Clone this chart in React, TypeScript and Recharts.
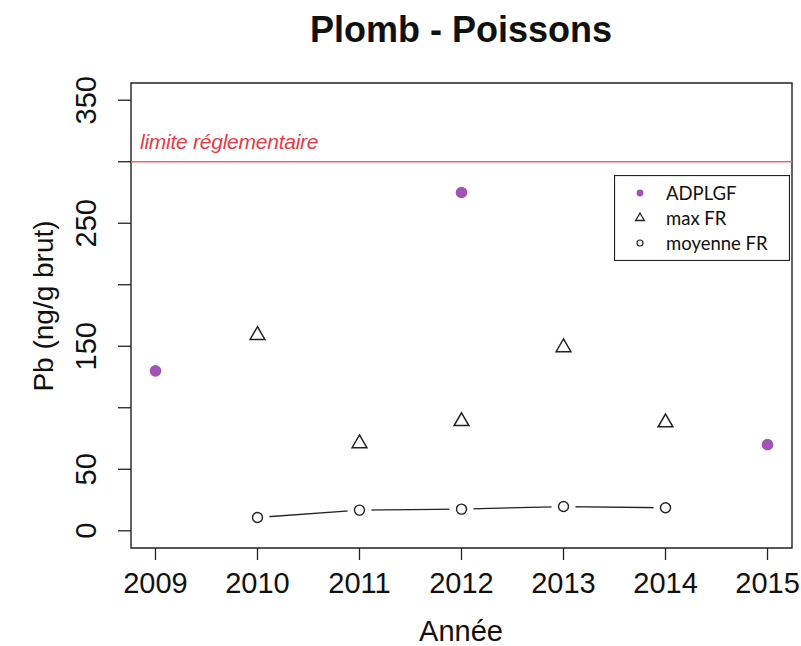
import React from 'react';
import {
  ScatterChart,
  Scatter,
  XAxis,
  YAxis,
  ReferenceLine,
  ReferenceArea,
  Legend,
} from 'recharts';

// ---- data ----
const yearTicks = [2009, 2010, 2011, 2012, 2013, 2014, 2015];
const yTicks = [0, 50, 100, 150, 200, 250, 300, 350];
const yLabelTicks = [0, 50, 150, 250, 350];

const adplgfYears = [2009, 2012, 2015];
const adplgfValues = [130, 275, 70];

const maxFrYears = [2010, 2011, 2012, 2013, 2014];
const maxFrValues = [159, 71, 89, 149, 88];

const moyFrYears = [2010, 2011, 2012, 2013, 2014];
const moyFrValues = [10.8, 16.8, 17.6, 19.7, 18.7];

const limitValue = 300;
const limitLabel = 'limite réglementaire';

const titleText = 'Plomb - Poissons';
const xTitle = 'Année';
const yTitle = 'Pb (ng/g brut)';
const seriesNames = ['ADPLGF', 'max FR', 'moyenne FR'];

const xDomain: [number, number] = [2008.76, 2015.24];
const yDomain: [number, number] = [-14, 364];

// ---- derived tables ----
const adplgfData = adplgfYears.map((year, i) => ({ year, v: adplgfValues[i] }));
const maxFrData = maxFrYears.map((year, i) => ({ year, v: maxFrValues[i] }));
const moyFrData = moyFrYears.map((year, i) => ({ year, v: moyFrValues[i] }));

// ---- styles ----
const FONT = '"Liberation Sans", Arial, Helvetica, sans-serif';
const INK = '#222';
const PURPLE = '#A352B5';
const RED_LINE = '#F06A6A';
const RED_TEXT = '#E83A44';

const DotShape = (props: any) => {
  const { cx, cy } = props;
  return <circle cx={cx} cy={cy} r={5.8} fill={PURPLE} />;
};

const TriangleShape = (props: any) => {
  const { cx, cy } = props;
  const r = 8.5;
  const hx = 7.4;
  const pts = `${cx},${cy - r} ${cx + hx},${cy + r / 2} ${cx - hx},${cy + r / 2}`;
  return <polygon points={pts} fill="none" stroke={INK} strokeWidth={1.5} strokeLinejoin="miter" />;
};

const OpenCircleShape = (props: any) => {
  const { cx, cy } = props;
  return (
    <g>
      <circle cx={cx} cy={cy} r={12} fill="#fff" />
      <circle cx={cx} cy={cy} r={5} fill="#fff" stroke={INK} strokeWidth={1.4} />
    </g>
  );
};

const YTick = (props: any) => {
  const { y, payload } = props;
  if (!yLabelTicks.includes(payload.value)) return null;
  const x = 86;
  return (
    <text
      x={x}
      y={y}
      transform={`rotate(-90, ${x}, ${y})`}
      textAnchor="middle"
      dominantBaseline="central"
      fontFamily={FONT}
      fontSize={29}
      fill="#111"
    >
      {payload.value}
    </text>
  );
};

const XTick = (props: any) => {
  const { x, payload } = props;
  return (
    <text
      x={x}
      y={583}
      textAnchor="middle"
      dominantBaseline="central"
      fontFamily={FONT}
      fontSize={29}
      fill="#111"
    >
      {payload.value}
    </text>
  );
};

const LegendBox = () => {
  const rows = [18, 43, 68];
  return (
    <svg width={176} height={86} style={{ display: 'block' }}>
      <rect x={0.5} y={0.5} width={175} height={85} fill="#fff" stroke={INK} strokeWidth={1.2} />
      <circle cx={26} cy={rows[0]} r={3.4} fill={PURPLE} />
      <polygon
        points={`26,${rows[1] - 5} 30.3,${rows[1] + 2.5} 21.7,${rows[1] + 2.5}`}
        fill="none"
        stroke={INK}
        strokeWidth={1.3}
      />
      <circle cx={26} cy={rows[2]} r={3} fill="none" stroke={INK} strokeWidth={1.2} />
      {seriesNames.map((n, i) => (
        <text
          key={n}
          x={52}
          y={rows[i]}
          dominantBaseline="central"
          fontFamily="Lato, 'Open Sans', sans-serif"
          fontSize={18.5}
          fill="#111"
        >
          {n}
        </text>
      ))}
    </svg>
  );
};

export default function App() {
  return (
    <div style={{ position: 'absolute', left: 0, top: 0, width: 801, height: 646, background: '#fff' }}>
      <div
        style={{
          position: 'absolute',
          left: 0,
          top: 12,
          width: 922,
          textAlign: 'center',
          fontFamily: FONT,
          fontWeight: 'bold',
          fontSize: 36,
          lineHeight: '36px',
          color: '#111',
          zIndex: 2,
        }}
      >
        {titleText}
      </div>
      <ScatterChart width={801} height={646} margin={{ top: 83, right: 9, bottom: 0, left: 0 }}>
        <XAxis
          type="number"
          dataKey="year"
          domain={xDomain}
          ticks={yearTicks}
          allowDataOverflow
          height={98}
          axisLine={false}
          tickSize={12}
          tickLine={{ stroke: INK, strokeWidth: 1.3 }}
          tick={<XTick />}
          interval={0}
          label={(p: any) => (
            <text
              x={461}
              y={631}
              textAnchor="middle"
              dominantBaseline="central"
              fontFamily={FONT}
              fontSize={29}
              fill="#111"
            >
              {xTitle}
            </text>
          )}
        />
        <YAxis
          type="number"
          dataKey="v"
          domain={yDomain}
          ticks={yTicks}
          allowDataOverflow
          width={131}
          axisLine={false}
          tickSize={13}
          tickLine={{ stroke: INK, strokeWidth: 1.3 }}
          tick={<YTick />}
          interval={0}
          label={(p: any) => (
            <text
              x={43}
              y={306}
              transform="rotate(-90, 43, 306)"
              textAnchor="middle"
              dominantBaseline="central"
              fontFamily={FONT}
              fontSize={28}
              fill="#111"
            >
              {yTitle}
            </text>
          )}
        />
        <ReferenceArea
          x1={xDomain[0]}
          x2={xDomain[1]}
          y1={yDomain[0]}
          y2={yDomain[1]}
          fill="none"
          fillOpacity={0}
          stroke={INK}
          strokeWidth={1.4}
          strokeOpacity={1}
          ifOverflow="visible"
        />
        <ReferenceLine
          y={limitValue}
          stroke={RED_LINE}
          strokeWidth={1.6}
          label={(p: any) => {
            const vb = p.viewBox || {};
            return (
              <text
                x={(vb.x ?? 131) + 9}
                y={(vb.y ?? 160) - 13}
                fontFamily={FONT}
                fontStyle="italic"
                fontSize={21}
                letterSpacing={-0.25}
                fill={RED_TEXT}
              >
                {limitLabel}
              </text>
            );
          }}
        />
        <Scatter
          name={seriesNames[2]}
          data={moyFrData}
          line={{ stroke: INK, strokeWidth: 1.3 }}
          lineType="joint"
          shape={<OpenCircleShape />}
          isAnimationActive={false}
        />
        <Scatter name={seriesNames[1]} data={maxFrData} shape={<TriangleShape />} isAnimationActive={false} />
        <Scatter name={seriesNames[0]} data={adplgfData} shape={<DotShape />} isAnimationActive={false} />
        <Legend
          layout="vertical"
          align="center"
          verticalAlign="middle"
          content={() => <LegendBox />}
          wrapperStyle={{ position: 'absolute', left: 614, top: 175, width: 176, height: 86 }}
        />
      </ScatterChart>
    </div>
  );
}
